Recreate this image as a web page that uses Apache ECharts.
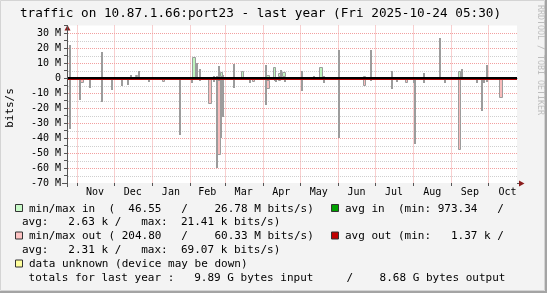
<!DOCTYPE html>
<html><head><meta charset="utf-8">
<script src="https://cdn.jsdelivr.net/npm/echarts@6/dist/echarts.min.js"></script>
<style>html,body{margin:0;padding:0;background:#f3f3f3}#c{width:547px;height:293px}</style>
</head><body><div id="c"></div><script>
const titleText = 'traffic on 10.87.1.66:port23 - last year (Fri 2025-10-24 05:30)';
const sideText = 'RRDTOOL / TOBI OETIKER';
const yAxisName = 'bits/s';
const xStart = '2024-10-24T05:30:00';
const xEnd = '2025-10-24T05:30:00';
const monthEdges = ['2024-11-01','2024-12-01','2025-01-01','2025-02-01','2025-03-01','2025-04-01','2025-05-01','2025-06-01','2025-07-01','2025-08-01','2025-09-01','2025-10-01','2025-11-01'];
const monthLabels = ['Nov','Dec','Jan','Feb','Mar','Apr','May','Jun','Jul','Aug','Sep','Oct'];
const yTickValues = [-70,-60,-50,-40,-30,-20,-10,0,10,20,30];
const yTickLabels = ['-70 M','-60 M','-50 M','-40 M','-30 M','-20 M','-10 M','0','10 M','20 M','30 M'];
const yMin = -70, yMax = 35, yStep = 5;

// [start day, end day, min, max] in M bits/s (inbound, drawn upward)
const inRanges = [
 ['2024-10-26','2024-10-28',0,22.3],
 ['2024-11-04','2024-11-07',0,0.5],
 ['2024-11-07','2024-11-09',0,0.7],
 ['2024-11-11','2024-11-13',0,0.6],
 ['2024-11-21','2024-11-23',0,17.6],
 ['2024-11-29','2024-12-01',0,0.7],
 ['2024-12-01','2024-12-03',0,0.7],
 ['2024-12-12','2024-12-14',0,0.7],
 ['2024-12-14','2024-12-16',0,1.9],
 ['2024-12-18','2024-12-21',0.5,2.0],
 ['2024-12-21','2024-12-23',0,5.0],
 ['2025-01-09','2025-01-12',0,0.7],
 ['2025-01-23','2025-01-25',0,0.7],
 ['2025-02-03','2025-02-06',0.3,14.2],
 ['2025-02-06','2025-02-08',0.3,10.0],
 ['2025-02-08','2025-02-10',0,5.7],
 ['2025-02-16','2025-02-19',0,0.7],
 ['2025-02-20','2025-02-22',0,1.5],
 ['2025-02-22','2025-02-24',0,1.5],
 ['2025-02-24','2025-02-26',0,8.2],
 ['2025-02-25','2025-02-28',0.5,4.0],
 ['2025-02-27','2025-03-01',0,1.7],
 ['2025-03-08','2025-03-10',0,9.5],
 ['2025-03-14','2025-03-17',0,4.7],
 ['2025-04-04','2025-04-07',0.3,2.2],
 ['2025-04-03','2025-04-05',0,8.4],
 ['2025-04-09','2025-04-12',0,7.3],
 ['2025-04-11','2025-04-13',0,1.0],
 ['2025-04-13','2025-04-16',1.0,3.2],
 ['2025-04-15','2025-04-17',0,5.5],
 ['2025-04-17','2025-04-20',0.5,4.0],
 ['2025-05-02','2025-05-04',0,4.7],
 ['2025-05-12','2025-05-14',0,1.5],
 ['2025-05-17','2025-05-20',0,7.3],
 ['2025-05-20','2025-05-22',0,1.5],
 ['2025-06-01','2025-06-03',0,18.4],
 ['2025-06-21','2025-06-24',0,1.3],
 ['2025-06-27','2025-06-29',0,18.7],
 ['2025-07-14','2025-07-16',0,4.7],
 ['2025-07-18','2025-07-20',0,0.5],
 ['2025-08-02','2025-08-04',0,0.5],
 ['2025-08-09','2025-08-11',0,3.5],
 ['2025-08-22','2025-08-24',0,26.8],
 ['2025-09-06','2025-09-09',0.3,4.7],
 ['2025-09-09','2025-09-11',0,6.0],
 ['2025-09-18','2025-09-21',0.2,0.5],
 ['2025-09-29','2025-10-01',0,8.4],
 ['2025-10-05','2025-10-07',0,0.5]
];
// [start day, end day, min, max] in M bits/s (outbound, drawn downward)
const outRanges = [
 ['2024-10-26','2024-10-28',0,33.7],
 ['2024-11-04','2024-11-07',0.5,3.0],
 ['2024-11-03','2024-11-05',1,14.4],
 ['2024-11-11','2024-11-13',0,6.6],
 ['2024-11-21','2024-11-23',0,15.7],
 ['2024-11-29','2024-12-01',0,7.7],
 ['2024-12-07','2024-12-09',0,5.6],
 ['2024-12-12','2024-12-14',0,4.9],
 ['2024-12-29','2024-12-31',0,2.9],
 ['2025-01-09','2025-01-12',0.5,2.5],
 ['2025-01-23','2025-01-25',0,38.2],
 ['2025-02-02','2025-02-04',0,3.5],
 ['2025-02-08','2025-02-10',0,2.0],
 ['2025-02-16','2025-02-19',0.7,17.6],
 ['2025-02-20','2025-02-22',0,2.5],
 ['2025-02-23','2025-02-26',1,51],
 ['2025-02-22','2025-02-24',0,60.3],
 ['2025-02-25','2025-02-27',0,40],
 ['2025-02-27','2025-03-01',0,25.8],
 ['2025-03-08','2025-03-10',0,6.7],
 ['2025-03-21','2025-03-23',0,3.5],
 ['2025-03-23','2025-03-26',0.5,2.5],
 ['2025-03-27','2025-03-29',0,1.5],
 ['2025-04-03','2025-04-07',1,7.6],
 ['2025-04-03','2025-04-05',0,18.3],
 ['2025-04-10','2025-04-12',0,2.0],
 ['2025-04-11','2025-04-13',0,2.5],
 ['2025-04-13','2025-04-16',0.5,2.0],
 ['2025-04-18','2025-04-20',0,2.5],
 ['2025-05-02','2025-05-04',0,8.7],
 ['2025-05-06','2025-05-09',0.3,0.7],
 ['2025-05-20','2025-05-22',0,3.0],
 ['2025-06-01','2025-06-03',0,39.8],
 ['2025-06-21','2025-06-24',0.3,5.3],
 ['2025-06-27','2025-06-29',0,1.8],
 ['2025-06-29','2025-07-01',0,1.0],
 ['2025-07-04','2025-07-06',0,0.7],
 ['2025-07-14','2025-07-16',0,7.1],
 ['2025-07-18','2025-07-20',0,2.5],
 ['2025-07-25','2025-07-28',0.5,3.0],
 ['2025-08-01','2025-08-03',0,3.5],
 ['2025-08-02','2025-08-04',0,44.2],
 ['2025-08-06','2025-08-08',0,0.7],
 ['2025-08-09','2025-08-11',0,3.0],
 ['2025-08-15','2025-08-18',0.2,0.6],
 ['2025-08-22','2025-08-24',0,1.0],
 ['2025-08-26','2025-08-28',0,3.0],
 ['2025-09-06','2025-09-09',0.3,48.3],
 ['2025-09-21','2025-09-23',0,3.0],
 ['2025-09-25','2025-09-27',0,22.3],
 ['2025-09-27','2025-09-29',0,3.5],
 ['2025-09-29','2025-10-01',0,2.5],
 ['2025-10-10','2025-10-13',0.5,13.6]
];

const legendRows = [
 {box:'#c8fac8', text:'min/max in  (  46.55   /    26.78 M bits/s)', box2:'#00a000', text2:'avg in  (min: 973.34   /'},
 {text:'avg:   2.63 k /   max:  21.41 k bits/s)'},
 {box:'#ffc4c4', text:'min/max out ( 204.80   /    60.33 M bits/s)', box2:'#c00000', text2:'avg out (min:   1.37 k /'},
 {text:'avg:   2.31 k /   max:  69.07 k bits/s)'},
 {box:'#ffff9c', text:'data unknown (device may be down)'},
 {text:' totals for last year :   9.89 G bytes input     /    8.68 G bytes output'}
];

function ts(d){ return new Date(d.length > 10 ? d : d + 'T00:00:00').getTime(); }
const X0 = ts(xStart), X1 = ts(xEnd);
const DAY = 86400000;
const MONO = '"DejaVu Sans Mono", monospace';
const GREY = '#9c9c9c';

function barRender(fill){
  return function(params, api){
    const a = api.coord([api.value(0), api.value(2)]);
    const b = api.coord([api.value(1), api.value(3)]);
    const narrow = (api.value(1) - api.value(0)) <= 2.5 * DAY;
    let x0 = Math.round(Math.min(a[0], b[0])), x1 = Math.round(Math.max(a[0], b[0]));
    let y0 = Math.round(Math.min(a[1], b[1])), y1 = Math.round(Math.max(a[1], b[1]));
    if (narrow || x1 - x0 < 2) x1 = x0 + 2;
    if (narrow || y1 - y0 < 2) {
      return {type:'rect', shape:{x:x0, y:y0, width:x1 - x0, height:Math.max(1, y1 - y0)}, style:{fill:GREY}};
    }
    return {type:'rect', shape:{x:x0 + 0.5, y:y0 + 0.5, width:x1 - x0 - 1, height:y1 - y0 - 1},
            style:{fill:fill, stroke:GREY, lineWidth:1}};
  };
}

const gridVals = [];
for (let v = yMin + yStep; v < yMax; v += yStep) if (v !== 0) gridVals.push(v);

const chart = echarts.init(document.getElementById('c'), null, {renderer:'canvas'});
const graphics = [
  {type:'rect', shape:{x:0.5, y:0.5, width:544, height:290}, style:{fill:'none', stroke:'#d4d4d4', lineWidth:1}, silent:true},
  {type:'rect', shape:{x:545, y:0, width:2, height:293}, style:{fill:'#a4a4a4'}, silent:true},
  {type:'rect', shape:{x:0, y:291, width:547, height:2}, style:{fill:'#a4a4a4'}, silent:true},
  {type:'text', x:260.5, y:13.5, style:{text:titleText, font:'12.7px ' + MONO, fill:'#000', textAlign:'center', textVerticalAlign:'middle'}},
  {type:'text', x:540, y:5, rotation:-Math.PI/2, style:{text:sideText, font:'8.3px ' + MONO, fill:'#bdbdbd', textAlign:'left', textVerticalAlign:'middle'}},
  {type:'text', x:10, y:108, rotation:Math.PI/2, style:{text:yAxisName, font:'11px ' + MONO, fill:'#000', textAlign:'center', textVerticalAlign:'middle'}},
  {type:'line', shape:{x1:62, y1:183.5, x2:67, y2:183.5}, style:{stroke:'#555', lineWidth:1}},
  {type:'line', shape:{x1:517, y1:183.5, x2:520, y2:183.5}, style:{stroke:'#555', lineWidth:1}},
  {type:'line', shape:{x1:67.5, y1:183, x2:67.5, y2:187}, style:{stroke:'#555', lineWidth:1}},
  {type:'polygon', shape:{points:[[67.5,25],[64.5,30.5],[70.5,30.5]]}, style:{fill:'#8b1c1c'}},
  {type:'polygon', shape:{points:[[524.5,183.5],[519,180.5],[519,186.5]]}, style:{fill:'#8b1c1c'}}
];
const rowY = [209, 222.5, 236.5, 250.5, 264.5, 278.5];
legendRows.forEach(function(r, i){
  const y = rowY[i];
  if (r.box) {
    graphics.push({type:'rect', shape:{x:15.5, y:y - 4.5, width:7, height:7}, style:{fill:r.box, stroke:'#333', lineWidth:1}});
    graphics.push({type:'text', x:29, y:y, style:{text:r.text, font:'11px ' + MONO, fill:'#000', textAlign:'left', textVerticalAlign:'middle'}});
  } else {
    graphics.push({type:'text', x:22, y:y, style:{text:r.text, font:'11px ' + MONO, fill:'#000', textAlign:'left', textVerticalAlign:'middle'}});
  }
  if (r.box2) {
    graphics.push({type:'rect', shape:{x:331.5, y:y - 4.5, width:7, height:7}, style:{fill:r.box2, stroke:'#333', lineWidth:1}});
    graphics.push({type:'text', x:345, y:y, style:{text:r.text2, font:'11px ' + MONO, fill:'#000', textAlign:'left', textVerticalAlign:'middle'}});
  }
});

chart.setOption({
  animation:false,
  backgroundColor:'#f3f3f3',
  grid:{left:67, right:30, top:25.5, bottom:110, show:true, backgroundColor:'#ffffff', borderWidth:0},
  xAxis:{type:'time', min:X0, max:X1, axisLabel:{show:false}, axisTick:{show:false}, splitLine:{show:false},
         axisLine:{show:true, lineStyle:{color:'#555', width:1}}},
  yAxis:{type:'value', min:yMin, max:yMax, interval:yStep,
         axisLine:{show:true, lineStyle:{color:'#555', width:1}},
         axisTick:{show:true, length:3, lineStyle:{color:'#555'}},
         splitLine:{show:false},
         axisLabel:{margin:6, color:'#000', fontFamily:'DejaVu Sans Mono', fontSize:10,
           formatter:function(v){ const i = yTickValues.indexOf(v); return i >= 0 ? yTickLabels[i] : ''; }}},
  graphic:graphics,
  series:[
    {type:'custom', z:1, silent:true, clip:false,
     data:gridVals.map(function(v){ return [X0, v]; }), encode:{x:0, y:1},
     renderItem:function(params, api){
       const v = api.value(1);
       const a = api.coord([X0, v]), b = api.coord([X1, v]);
       const y = Math.round(a[1]) + 0.5;
       return {type:'line', shape:{x1:a[0] + 1, y1:y, x2:b[0], y2:y},
               style:{stroke:(v % 10 === 0) ? '#f2a0a0' : '#cfcfcf', lineWidth:1, lineDash:[1,1]}};
     }},
    {type:'custom', z:1, silent:true, clip:false,
     data:monthLabels.map(function(m, i){ return [ts(monthEdges[i]), ts(monthEdges[i + 1]), i]; }), encode:{x:[0,1]},
     renderItem:function(params, api){
       const i = api.value(2);
       const top = api.coord([api.value(0), yMax]);
       const bot = api.coord([api.value(0), yMin]);
       const nxt = api.coord([api.value(1), yMin]);
       const x = Math.round(top[0]) + 0.5;
       return {type:'group', children:[
         {type:'line', shape:{x1:x, y1:top[1], x2:x, y2:bot[1]}, style:{stroke:'#f2a0a0', lineWidth:1, lineDash:[1,1]}},
         {type:'line', shape:{x1:x, y1:bot[1], x2:x, y2:bot[1] + 3}, style:{stroke:'#555', lineWidth:1}},
         {type:'text', x:(bot[0] + nxt[0]) / 2, y:bot[1] + 9.5,
          style:{text:monthLabels[i], font:'10px ' + MONO, fill:'#000', textAlign:'center', textVerticalAlign:'middle'}}
       ]};
     }},
    {type:'custom', name:'in', z:2, silent:true,
     data:inRanges.map(function(r){ return [ts(r[0]), ts(r[1]), r[2], r[3]]; }), encode:{x:[0,1], y:[2,3]},
     renderItem:barRender('#bdf5bd')},
    {type:'custom', name:'out', z:2, silent:true,
     data:outRanges.map(function(r){ return [ts(r[0]), ts(r[1]), -r[2], -r[3]]; }), encode:{x:[0,1], y:[2,3]},
     renderItem:barRender('#f8bcbc')},
    {type:'custom', name:'zero', z:3, silent:true,
     data:[[X0, X1, 0]], encode:{x:[0,1], y:2},
     renderItem:function(params, api){
       const a = api.coord([api.value(0), 0]), b = api.coord([api.value(1), 0]);
       const y = Math.round(a[1]);
       return {type:'group', children:[
         {type:'rect', shape:{x:a[0] + 1, y:y - 1, width:b[0] - a[0] - 1, height:2}, style:{fill:'#000'}},
         {type:'rect', shape:{x:a[0] + 1, y:y + 1, width:b[0] - a[0] - 1, height:1}, style:{fill:'#b00000'}}
       ]};
     }}
  ]
});
</script></body></html>
